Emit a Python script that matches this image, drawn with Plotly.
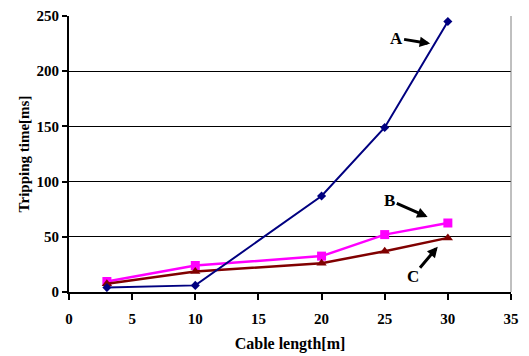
import plotly.graph_objects as go

cable_length = [3, 10, 20, 25, 30]
series_a = [4, 6, 87, 149, 245]
series_b = [9.5, 24, 32.5, 52, 62.5]
series_c = [7.5, 18.5, 26, 37, 49]

FONT = "Times New Roman, Liberation Serif, serif"

fig = go.Figure()
fig.add_trace(go.Scatter(x=cable_length, y=series_b, mode="lines+markers", name="B",
                         line=dict(color="#FF00FF", width=2.5),
                         marker=dict(symbol="square", size=9, color="#FF00FF")))
fig.add_trace(go.Scatter(x=cable_length, y=series_c, mode="lines+markers", name="C",
                         line=dict(color="#800000", width=2.5),
                         marker=dict(symbol="triangle-up", size=9, color="#800000")))
fig.add_trace(go.Scatter(x=cable_length, y=series_a, mode="lines+markers", name="A",
                         line=dict(color="#000080", width=2),
                         marker=dict(symbol="diamond", size=7, color="#000080")))

ann = dict(showarrow=True, arrowhead=2, arrowsize=0.7, arrowwidth=3, arrowcolor="black",
           axref="x", ayref="y", font=dict(family=FONT, size=17, color="black"))
fig.add_annotation(text="<b>A</b>", x=28.6, y=225, ax=25.9, ay=230, **ann)
fig.add_annotation(text="<b>B</b>", x=28.4, y=68, ax=25.4, ay=83, **ann)
fig.add_annotation(text="<b>C</b>", x=29.2, y=41, ax=27.2, ay=14, **ann)

fig.update_layout(
    width=529, height=356,
    margin=dict(l=69, r=18, t=16, b=64, autoexpand=False),
    paper_bgcolor="white", plot_bgcolor="white",
    showlegend=False,
    hovermode=False,
    font=dict(family=FONT, size=14, color="black"),
    xaxis=dict(range=[0, 35], dtick=5, showgrid=False, zeroline=False,
               showline=True, linecolor="black", linewidth=2, mirror=False,
               ticks="outside", ticklen=6, tickwidth=1.5, tickcolor="black",
               ticklabelstandoff=6,
               tickfont=dict(family=FONT, size=15, weight="bold"),
               title=dict(text="<b>Cable length[m]</b>", font=dict(family=FONT, size=16), standoff=12)),
    yaxis=dict(range=[0, 250], dtick=50, showgrid=True, gridcolor="black", gridwidth=1,
               zeroline=False, showline=True, linecolor="black", linewidth=2,
               ticks="outside", ticklen=5, tickwidth=1.5, tickcolor="black",
               tickfont=dict(family=FONT, size=15, weight="bold"),
               title=dict(text="<b>Tripping time[ms]</b>", font=dict(family=FONT, size=15), standoff=3)),
)
# gray right border of plot area
fig.add_shape(type="line", xref="paper", yref="paper", x0=1, x1=1, y0=0, y1=1,
              line=dict(color="#808080", width=1))

fig.write_html("out.html", config={"displayModeBar": False},
               post_script="document.body.style.margin='0';")
